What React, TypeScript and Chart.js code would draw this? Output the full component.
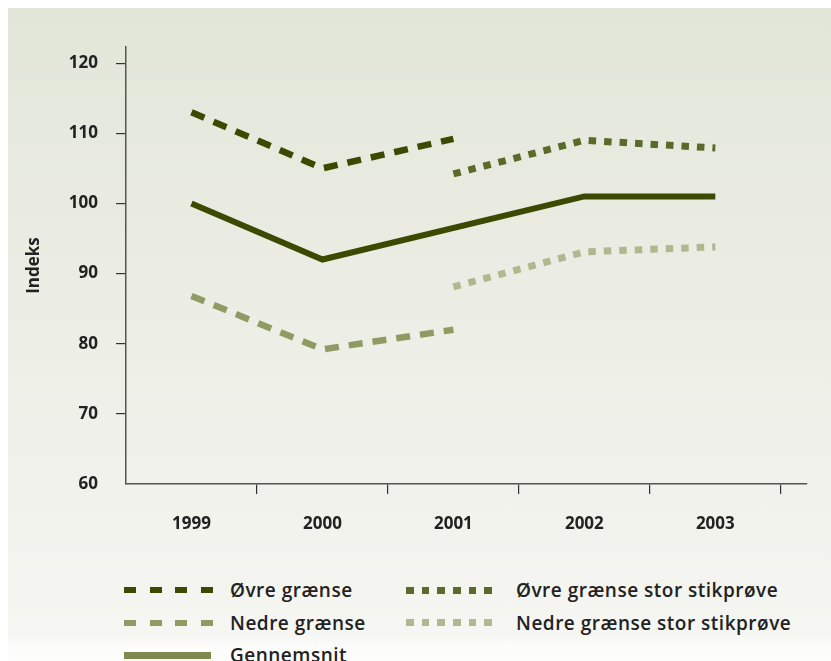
import React, { useEffect, useRef } from "react";
import { Chart, registerables } from "chart.js";

Chart.register(...registerables);

const categories = ["1999", "2000", "2001", "2002", "2003"];
const ovreGraense: (number | null)[] = [113, 105, 109.2, null, null];
const nedreGraense: (number | null)[] = [86.8, 79.2, 82, null, null];
const ovreStor: (number | null)[] = [null, null, 104.2, 109, 107.9];
const nedreStor: (number | null)[] = [null, null, 88.1, 93.1, 93.8];
const gennemsnit: (number | null)[] = [100, 92, null, 101, 101];
const yTicks = [60, 70, 80, 90, 100, 110, 120];

const C_OVRE = "#3b4a00";
const C_OVRE_STOR = "#5a6a29";
const C_NEDRE = "#8f9b63";
const C_NEDRE_STOR = "#b1b88f";
const C_MEAN_LEGEND = "#7e8a50";

const toPts = (arr: (number | null)[]) => arr.map((v, i) => ({ x: i, y: v }));

const legendItems = [
  { label: "Øvre grænse", color: C_OVRE, kind: "dash", col: 0, row: 0 },
  { label: "Øvre grænse stor stikprøve", color: C_OVRE_STOR, kind: "dot", col: 1, row: 0 },
  { label: "Nedre grænse", color: C_NEDRE, kind: "dash", col: 0, row: 1 },
  { label: "Nedre grænse stor stikprøve", color: C_NEDRE_STOR, kind: "dot", col: 1, row: 1 },
  { label: "Gennemsnit", color: C_MEAN_LEGEND, kind: "solid", col: 0, row: 2 },
];

export default function App() {
  const ref = useRef<HTMLCanvasElement | null>(null);
  useEffect(() => {
    if (!ref.current) return;
    Chart.defaults.font.family = "'Open Sans', sans-serif";
    const common = {
      pointRadius: 0,
      pointHoverRadius: 0,
      fill: false,
      tension: 0,
      borderCapStyle: "butt" as const,
      borderJoinStyle: "miter" as const,
    };
    const chart = new Chart(ref.current, {
      type: "line",
      data: {
        datasets: [
          { ...common, label: "Nedre grænse stor stikprøve", data: toPts(nedreStor), borderColor: C_NEDRE_STOR, borderWidth: 7, borderDash: [7.5, 8] },
          { ...common, label: "Øvre grænse stor stikprøve", data: toPts(ovreStor), borderColor: C_OVRE_STOR, borderWidth: 7, borderDash: [7.5, 8] },
          { ...common, label: "Nedre grænse", data: toPts(nedreGraense), borderColor: C_NEDRE, borderWidth: 6.5, borderDash: [14, 10] },
          { ...common, label: "Øvre grænse", data: toPts(ovreGraense), borderColor: C_OVRE, borderWidth: 6.5, borderDash: [14, 10] },
          { ...common, label: "Gennemsnit", data: toPts(gennemsnit), borderColor: C_OVRE, borderWidth: 6, spanGaps: true },
        ],
      },
      options: {
        responsive: false,
        animation: false,
        layout: { padding: { top: 39, right: 24, left: 0, bottom: 0 } },
        plugins: { legend: { display: false }, tooltip: { enabled: false } },
        scales: {
          x: {
            type: "linear",
            min: -0.5,
            max: 4.7,
            afterBuildTicks: (scale: any) => {
              scale.ticks = [0, 0.5, 1, 1.5, 2, 2.5, 3, 3.5, 4, 4.5].map((v) => ({ value: v }));
            },
            afterFit: (scale: any) => {
              scale.height = 69;
            },
            ticks: {
              autoSkip: false,
              maxRotation: 0,
              padding: 20,
              color: "#222",
              font: { size: 17, weight: "bold" },
              callback: (v: any) => (Number.isInteger(v) ? categories[v] : ""),
            },
            grid: {
              drawOnChartArea: false,
              drawTicks: true,
              tickLength: 10,
              lineWidth: 1.2,
              color: (ctx: any) => (ctx.tick && !Number.isInteger(ctx.tick.value) ? "#333" : "rgba(0,0,0,0)"),
            },
            border: { display: true, color: "#555", width: 1.5 },
          },
          y: {
            min: 60,
            max: 122.3,
            afterBuildTicks: (scale: any) => {
              scale.ticks = yTicks.map((v) => ({ value: v }));
            },
            afterFit: (scale: any) => {
              scale.width = 118;
            },
            ticks: {
              padding: 18,
              color: "#222",
              font: { size: 17, weight: "bold" },
            },
            grid: {
              drawOnChartArea: false,
              drawTicks: true,
              tickLength: 10,
              lineWidth: 1.2,
              color: (ctx: any) => (ctx.tick && ctx.tick.value === 60 ? "rgba(0,0,0,0)" : "#333"),
            },
            border: { display: true, color: "#555", width: 1.5 },
            title: {
              display: true,
              text: "Indeks",
              color: "#222",
              font: { size: 17, weight: "bold" },
              padding: { top: 16, bottom: 6 },
            },
          },
        },
      },
    } as any);
    return () => chart.destroy();
  }, []);

  const rowY = [582, 614.5, 647];
  const sampleX = [116, 398];
  const textX = [222, 508];

  const sampleStyle = (kind: string, color: string): React.CSSProperties => {
    if (kind === "dash")
      return {
        width: 89,
        height: 6,
        background: `repeating-linear-gradient(to right, ${color} 0px, ${color} 12px, transparent 12px, transparent 25.7px)`,
      };
    if (kind === "dot")
      return {
        width: 86,
        height: 7,
        background: `repeating-linear-gradient(to right, ${color} 0px, ${color} 7.5px, transparent 7.5px, transparent 15.7px)`,
      };
    return { width: 87, height: 7, background: color };
  };

  return (
    <div
      style={{
        position: "absolute",
        left: 8,
        top: 8,
        width: 823,
        height: 653,
        overflow: "hidden",
        background:
          "linear-gradient(to bottom, #e2e6d8 0%, #e9ebe1 30%, #eeefe7 55%, #f2f3ed 80%, #f6f6f2 96%, #fcfcfb 97.5%, #fdfdfc 100%)",
        fontFamily: "'Open Sans', sans-serif",
      }}
    >
      <canvas ref={ref} width={823} height={545} style={{ position: "absolute", left: 0, top: 0 }} />
      {legendItems.map((it) => (
        <React.Fragment key={it.label}>
          <div
            style={{
              position: "absolute",
              left: sampleX[it.col],
              top: rowY[it.row] - (it.kind === "dash" ? 3 : 3.5),
              ...sampleStyle(it.kind, it.color),
            }}
          />
          <div
            style={{
              position: "absolute",
              left: textX[it.col],
              top: rowY[it.row] - 13,
              height: 26,
              lineHeight: "26px",
              fontSize: 19,
              letterSpacing: "0.5px",
              fontWeight: 600,
              color: "#222",
              whiteSpace: "nowrap",
            }}
          >
            {it.label}
          </div>
        </React.Fragment>
      ))}
    </div>
  );
}
